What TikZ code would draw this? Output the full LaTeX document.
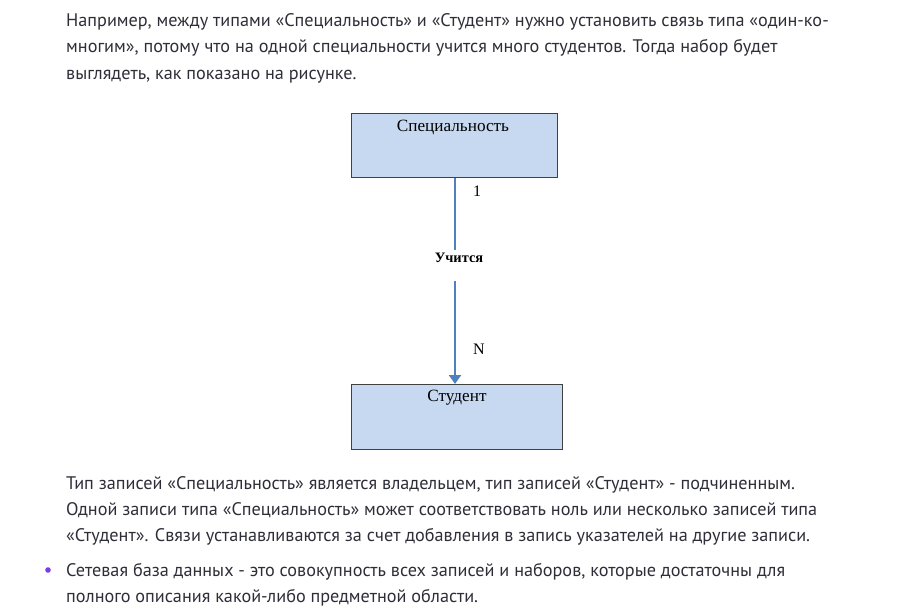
\documentclass[tikz,border=0pt]{standalone}
\usepackage{fontspec}
\setmainfont{PT Sans}
\newfontfamily\diagfont{Liberation Serif}
\usetikzlibrary{arrows.meta}
\definecolor{txtgray}{HTML}{2E2E38}
\definecolor{boxfill}{HTML}{C6D9F1}
\definecolor{linkblue}{HTML}{4F81BD}
\definecolor{bulletviolet}{HTML}{7A3CEB}
\tikzset{
  para/.style={anchor=base west, inner sep=0pt, text=txtgray, font=\fontsize{18.2}{20}\selectfont},
  recbox/.style={draw=black!75, fill=boxfill, line width=0.8pt, minimum width=206pt, minimum height=64pt, anchor=north west},
  rectitle/.style={font=\diagfont\fontsize{17.2}{19}\selectfont, inner sep=0pt},
  card/.style={font=\diagfont\fontsize{16}{18}\selectfont, inner sep=0pt},
  link/.style={linkblue, line width=2.8pt}
}

\begin{document}
\begin{tikzpicture}[x=1pt, y=-1pt]
  \useasboundingbox (0,0) rectangle (909,609);
  \node [para] (p1) at (66,27) {Например, между типами «Специальность» и «Студент» нужно установить связь типа «один-ко-};
  \node [para] (p2) at (66,53) {многим», потому что на одной специальности учится много студентов. Тогда набор будет};
  \node [para] (p3) at (66,80) {выглядеть, как показано на рисунке.};

  \node [recbox] (spec) at (351,113) {};
  \node [rectitle] (spect) at (453,127) {Специальность};
  \node [recbox, minimum width=211pt, minimum height=65pt] (stud) at (351,384) {};
  \node [rectitle] (studt) at (457,398) {Студент};

  \node [font=\diagfont\bfseries\fontsize{14.4}{16}\selectfont, inner sep=0pt] (rel) at (459,258) {Учится};
  \coordinate (gtop) at (455,250);
  \coordinate (gbot) at (455,281);
  \draw [link] (spec.south -| gtop) -- (gtop);
  \draw [link, -{Triangle[length=9pt, width=12pt]}] (gbot) -- (stud.north -| gbot);
  \node [card] (one) at (477,191) {1};
  \node [card] (many) at (479,349) {N};

  \node [para] (q1) at (66,489) {Тип записей «Специальность» является владельцем, тип записей «Студент» - подчиненным.};
  \node [para] (q2) at (66,515) {Одной записи типа «Специальность» может соответствовать ноль или несколько записей типа};
  \node [para] (q3) at (66,541) {«Студент». Связи устанавливаются за счет добавления в запись указателей на другие записи.};
  \fill [bulletviolet] (48,570) circle (2.8pt);
  \node [para] (r1) at (66,576) {Сетевая база данных - это совокупность всех записей и наборов, которые достаточны для};
  \node [para] (r2) at (66,602) {полного описания какой-либо предметной области.};
\end{tikzpicture}
\end{document}
